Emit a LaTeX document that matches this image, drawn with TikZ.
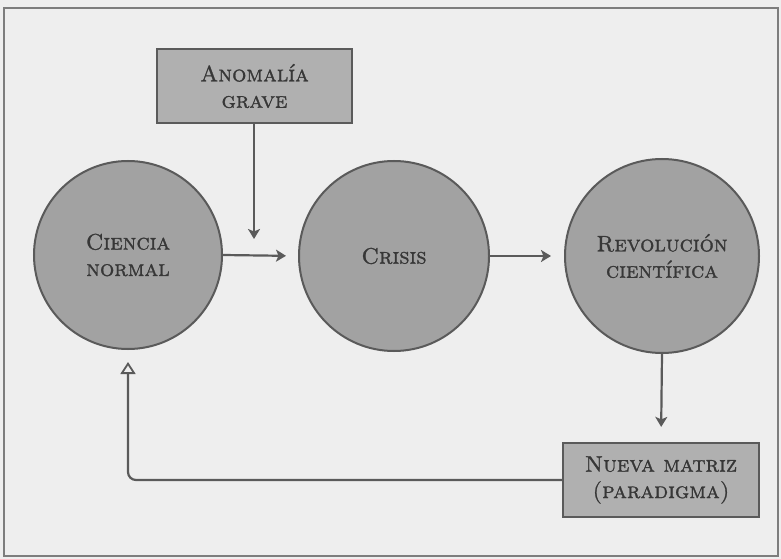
\documentclass[tikz,border=0pt]{standalone}
\usepackage{fontspec}
\usetikzlibrary{arrows.meta}
\newfontfamily\lblfont{Latin Modern Roman Caps}[FakeBold=1.2]
\definecolor{bgc}{RGB}{238,238,238}
\definecolor{framec}{RGB}{125,125,125}
\definecolor{circfill}{RGB}{162,162,162}
\definecolor{boxfill}{RGB}{176,176,176}
\definecolor{linec}{RGB}{90,90,90}
\definecolor{txtc}{RGB}{55,55,55}
\begin{document}
\begin{tikzpicture}[x=1bp,y=-1bp,
  lbl/.style={text=txtc,font=\lblfont\fontsize{22.5}{26.5}\selectfont,align=center},
  bubble/.style={circle,draw=linec,line width=2bp,fill=circfill,inner sep=0pt,lbl},
  boxn/.style={rectangle,draw=linec,line width=2.2bp,fill=boxfill,inner sep=0pt,lbl},
  conn/.style={draw=linec,line width=2.2bp,-{Stealth[length=10bp,width=12bp,inset=2.5bp]}},
  back/.style={draw=linec,line width=2.2bp,-{Triangle[open,length=12bp,width=15bp,line width=1.8bp]}}
]
\useasboundingbox (0,0) rectangle (781,559);
\fill[bgc] (0,0) rectangle (781,559);
\draw[framec,line width=1.8bp] (4,8) rectangle (778,556);
\node[boxn,minimum width=195bp,minimum height=74bp] (anom) at (254.5,86) {Anomalía\\grave};
\node[bubble,minimum size=188bp] (c1) at (128,255) {Ciencia\\normal};
\node[bubble,minimum size=190bp] (c2) at (394,256) {Crisis};
\node[bubble,minimum size=194bp] (c3) at (662,256) {Revolución\\científica};
\node[boxn,minimum width=196bp,minimum height=74bp] (nm) at (661,480) {Nueva matriz\\(paradigma)};
\coordinate (hit) at (254,239);
\draw[conn] (anom.south -| hit) -- (hit);
\draw[conn,shorten >=12bp] (c1.east) -- (c2.west);
\draw[conn,shorten >=13bp] (c2.east) -- (c3.west);
\draw[conn,shorten >=15bp] (c3.south) -- (nm.north);
\draw[back,rounded corners=8bp,shorten >=12bp] (nm.west) -| (c1.south);
\end{tikzpicture}
\end{document}
